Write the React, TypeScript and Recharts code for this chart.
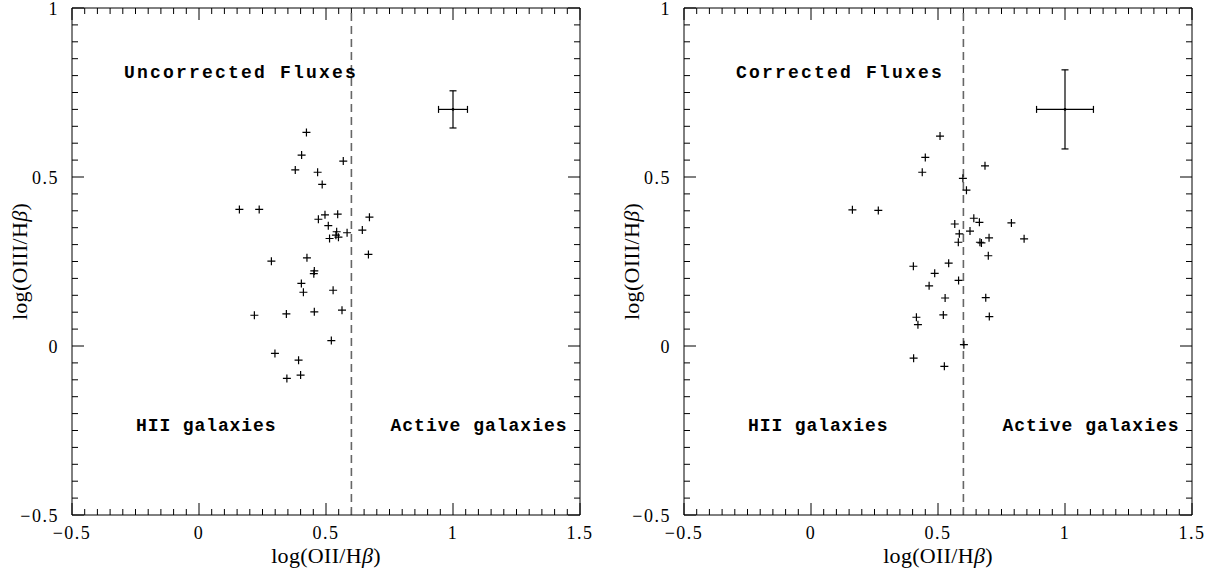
import React from 'react';
import {
  ScatterChart,
  Scatter,
  XAxis,
  YAxis,
  ErrorBar,
  ReferenceLine,
  ReferenceDot,
} from 'recharts';

// log(OII/Hb) and log(OIII/Hb), uncorrected fluxes
const uncorrectedOII = [
  0.423, 0.404, 0.568, 0.379, 0.467, 0.485, 0.159, 0.237, 0.496, 0.546, 0.671, 0.47,
  0.509, 0.542, 0.583, 0.643, 0.549, 0.514, 0.539, 0.667, 0.285, 0.425, 0.454, 0.452,
  0.403, 0.411, 0.528, 0.218, 0.344, 0.454, 0.563, 0.521, 0.299, 0.392, 0.346, 0.4,
];
const uncorrectedOIII = [
  0.632, 0.565, 0.547, 0.521, 0.514, 0.478, 0.404, 0.404, 0.388, 0.39, 0.381, 0.375,
  0.356, 0.338, 0.335, 0.343, 0.322, 0.318, 0.328, 0.271, 0.251, 0.261, 0.222, 0.214,
  0.185, 0.159, 0.165, 0.091, 0.095, 0.101, 0.106, 0.016, -0.022, -0.042, -0.096, -0.086,
];

// corrected fluxes
const correctedOII = [
  0.508, 0.45, 0.685, 0.438, 0.598, 0.612, 0.163, 0.265, 0.641, 0.663, 0.789, 0.566,
  0.626, 0.584, 0.701, 0.839, 0.665, 0.671, 0.58, 0.698, 0.542, 0.403, 0.487, 0.581,
  0.465, 0.528, 0.688, 0.521, 0.702, 0.415, 0.421, 0.602, 0.404, 0.525,
];
const correctedOIII = [
  0.621, 0.558, 0.533, 0.514, 0.496, 0.461, 0.403, 0.401, 0.378, 0.366, 0.364, 0.361,
  0.34, 0.332, 0.32, 0.317, 0.307, 0.305, 0.307, 0.267, 0.245, 0.236, 0.215, 0.194,
  0.178, 0.142, 0.143, 0.092, 0.087, 0.085, 0.063, 0.004, -0.036, -0.06,
];

// typical error bars
const uncorrectedError = [{ x: 1.0, y: 0.7, xerr: 0.057, yerr: 0.055 }];
const correctedError = [{ x: 1.0, y: 0.7, xerr: 0.112, yerr: 0.117 }];

const majorLabels = ['\u22120.5', '0', '0.5', '1', '1.5'];
const majorValues = [-0.5, 0, 0.5, 1, 1.5];
const xTicks = Array.from({ length: 41 }, (_, i) => (i - 10) / 20);
const yTicks = Array.from({ length: 31 }, (_, i) => (i - 10) / 20);
const divider = 0.6;

type Pt = { x: number; y: number };
const zip = (xs: number[], ys: number[]): Pt[] => xs.map((x, i) => ({ x, y: ys[i] }));

const serif = '"Liberation Serif", "DejaVu Serif", serif';
const mono = '"Liberation Mono", "DejaVu Sans Mono", monospace';

const labelFor = (v: number) => {
  const i = majorValues.findIndex((m) => Math.abs(m - v) < 1e-6);
  return i >= 0 ? majorLabels[i] : null;
};

const BottomTick = (props: any) => {
  const text = labelFor(props.payload.value);
  if (text === null) return <g />;
  return (
    <text x={props.x} y={props.y + 24} textAnchor="middle" fontFamily={serif} fontSize={18} letterSpacing={1.5} fill="#000">
      {text}
    </text>
  );
};

const LeftTick = (props: any) => {
  const text = labelFor(props.payload.value);
  if (text === null) return <g />;
  return (
    <text x={props.x - 13} y={props.y + 7} textAnchor="end" fontFamily={serif} fontSize={18} letterSpacing={1.5} fill="#000">
      {text}
    </text>
  );
};

// inward tick marks drawn at both ends of an invisible reference line
const tickMark = (vertical: boolean, major: boolean) => (props: any) => {
  const { x1, y1, x2, y2 } = props;
  const len = major ? 12 : 6;
  if (vertical) {
    const top = Math.min(y1, y2);
    const bottom = Math.max(y1, y2);
    return <path d={`M${x1},${bottom}V${bottom - len}M${x1},${top}V${top + len}`} stroke="#000" strokeWidth={1} fill="none" />;
  }
  const left = Math.min(x1, x2);
  const right = Math.max(x1, x2);
  return <path d={`M${left},${y1}H${left + len}M${right},${y1}H${right - len}`} stroke="#000" strokeWidth={1} fill="none" />;
};

const Cross = (props: any) => {
  const { cx, cy } = props;
  return <path d={`M${cx - 4},${cy}H${cx + 4}M${cx},${cy - 4}V${cy + 4}`} stroke="#000" strokeWidth={1.2} fill="none" />;
};

const Dot = (props: any) => <circle cx={props.cx} cy={props.cy} r={1.3} fill="#000" />;

const Annotation = (text: string, spacing: number) => (props: any) => {
  const { viewBox } = props;
  return (
    <text x={viewBox.x} y={viewBox.y} fontFamily={mono} fontWeight="bold" fontSize={18} letterSpacing={spacing} fill="#000">
      {text}
    </text>
  );
};

const AxisTitle = ({ ion }: { ion: string }) => (
  <>
    log({ion}/H<tspan fontStyle="italic">β</tspan>)
  </>
);

type PanelProps = {
  title: string;
  points: Pt[];
  error: { x: number; y: number; xerr: number; yerr: number }[];
};

const Panel = ({ title, points, error }: PanelProps) => (
  <ScatterChart width={600} height={575} margin={{ top: 0, right: 0, bottom: 0, left: 0 }}>
    <XAxis
      type="number"
      dataKey="x"
      domain={[-0.5, 1.5]}
      ticks={xTicks}
      interval={0}
      tickSize={0}
      tickMargin={0}
      tickLine={false}
      tick={BottomTick}
      axisLine={{ stroke: '#000' }}
      height={60}
      label={{
        content: (p: any) => (
          <text x={p.viewBox.x + p.viewBox.width / 2} y={p.viewBox.y + 48} textAnchor="middle" fontFamily={serif} fontSize={22} letterSpacing={0.3} fill="#000">
            <AxisTitle ion="OII" />
          </text>
        ),
      }}
    />
    <XAxis xAxisId="top" orientation="top" type="number" domain={[-0.5, 1.5]} tick={false} tickLine={false} axisLine={{ stroke: '#000' }} height={8} />
    <YAxis
      type="number"
      dataKey="y"
      domain={[-0.5, 1]}
      ticks={yTicks}
      interval={0}
      tickSize={0}
      tickMargin={0}
      tickLine={false}
      tick={LeftTick}
      axisLine={{ stroke: '#000' }}
      width={72}
      label={{
        content: (p: any) => {
          const cx = p.viewBox.x + 19;
          const cy = p.viewBox.y + p.viewBox.height / 2;
          return (
            <text x={cx} y={cy} transform={`rotate(-90 ${cx} ${cy})`} textAnchor="middle" dominantBaseline="central" fontFamily={serif} fontSize={22} letterSpacing={0.3} fill="#000">
              <AxisTitle ion="OIII" />
            </text>
          );
        },
      }}
    />
    <YAxis yAxisId="right" orientation="right" type="number" domain={[-0.5, 1]} tick={false} tickLine={false} axisLine={{ stroke: '#000' }} width={20} />
    {xTicks.map((v) => (
      <ReferenceLine key={`xt${v}`} x={v} shape={tickMark(true, labelFor(v) !== null)} />
    ))}
    {yTicks.map((v) => (
      <ReferenceLine key={`yt${v}`} y={v} shape={tickMark(false, labelFor(v) !== null)} />
    ))}
    <ReferenceLine x={divider} stroke="#666" strokeWidth={1.6} strokeDasharray="8 5" />
    <ReferenceDot x={-0.295} y={0.793} r={0} stroke="none" label={{ content: Annotation(title, 2.2) }} />
    <ReferenceDot x={-0.248} y={-0.251} r={0} stroke="none" label={{ content: Annotation('HII galaxies', 0.9) }} />
    <ReferenceDot x={0.754} y={-0.251} r={0} stroke="none" label={{ content: Annotation('Active galaxies', 1.0) }} />
    <Scatter data={points} shape={<Cross />} isAnimationActive={false} />
    <Scatter data={error} shape={<Dot />} isAnimationActive={false}>
      <ErrorBar dataKey="xerr" direction="x" width={3.5} stroke="#000" strokeWidth={1.2} isAnimationActive={false} />
      <ErrorBar dataKey="yerr" direction="y" width={3.5} stroke="#000" strokeWidth={1.2} isAnimationActive={false} />
    </Scatter>
  </ScatterChart>
);

export default function App() {
  return (
    <div style={{ position: 'absolute', left: 0, top: 0, width: 1212, height: 575, background: '#fff' }}>
      <div style={{ position: 'absolute', left: 0, top: 0 }}>
        <Panel title="Uncorrected Fluxes" points={zip(uncorrectedOII, uncorrectedOIII)} error={uncorrectedError} />
      </div>
      <div style={{ position: 'absolute', left: 612, top: 0 }}>
        <Panel title="Corrected Fluxes" points={zip(correctedOII, correctedOIII)} error={correctedError} />
      </div>
    </div>
  );
}
